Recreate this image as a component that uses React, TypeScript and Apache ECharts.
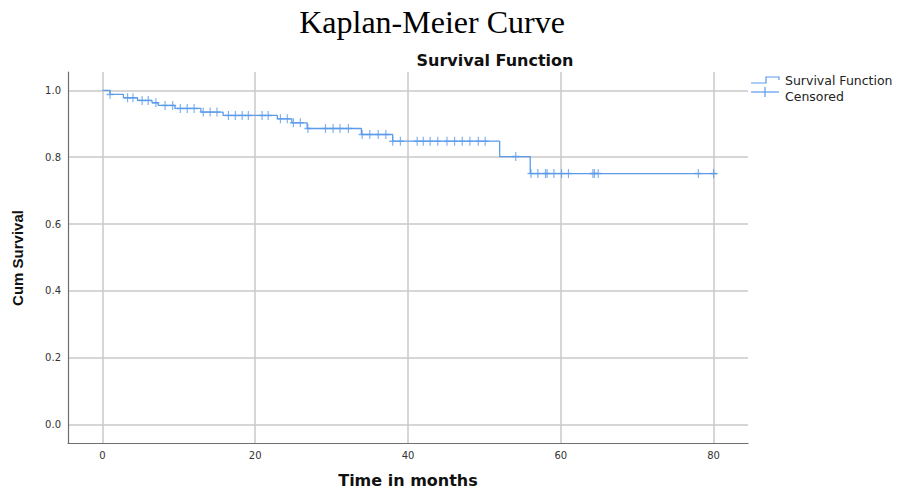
import React, { useEffect, useRef } from "react";
import * as echarts from "echarts";

// Kaplan-Meier step data (time in months, cumulative survival after event)
const eventTimes = [0, 1, 2.75, 4.6, 6.5, 7.3, 9.5, 12.9, 15.8, 22.9, 24.8, 26.8, 33.9, 38, 52, 56, 80.5];
const survival = [1.0, 0.988, 0.978, 0.97, 0.963, 0.955, 0.946, 0.935, 0.925, 0.915, 0.903, 0.886, 0.868, 0.848, 0.802, 0.751, 0.751];

// Censored observation times
const censoredTimes = [
  1, 3.3, 4, 5.2, 6, 7, 8.2, 9.2, 10.2, 11.1, 12, 13.2, 14.1, 15, 16.5, 17.4, 18.3, 19.1,
  20.9, 21.7, 23.3, 24.2, 25, 25.9, 26.9, 29.2, 30.2, 31.1, 32.2, 34, 35, 36.1, 37.1, 38, 39,
  41.2, 42, 42.9, 43.9, 45.1, 46.1, 47.1, 48.1, 49.2, 50.1, 54.1, 56.1, 57, 58, 58.2, 59.1,
  60.1, 61, 64.2, 64.4, 64.9, 78, 80,
];

const titleText = "Kaplan-Meier Curve";
const subtitleText = "Survival Function";
const xAxisTitle = "Time in months";
const yAxisTitle = "Cum Survival";
const legendNames = ["Survival Function", "Censored"];

const LINE_COLOR = "#5b9bea";

function survivalAt(t: number): number {
  let s = survival[0];
  for (let i = 0; i < eventTimes.length; i++) {
    if (eventTimes[i] <= t) s = survival[i];
  }
  return s;
}

export default function App() {
  const ref = useRef<HTMLDivElement>(null);

  useEffect(() => {
    if (!ref.current) return;
    const chart = echarts.init(ref.current, null, { renderer: "svg" });

    const stepData = eventTimes.map((t, i) => [t, survival[i]]);
    const censData = censoredTimes.map((t) => [t, survivalAt(t)]);

    const sans = "DejaVu Sans";
    chart.setOption({
      animation: false,
      backgroundColor: "#ffffff",
      grid: { left: 68, right: 151, top: 72, bottom: 46, containLabel: false },
      xAxis: {
        type: "value",
        min: -4.5,
        max: 84.5,
        splitNumber: 5,
        axisLine: { show: true, onZero: false, lineStyle: { color: "#6e6e6e", width: 1.2 } },
        axisTick: { show: false },
        axisLabel: {
          showMinLabel: false,
          showMaxLabel: false,
          color: "#333",
          fontFamily: sans,
          fontSize: 10,
          margin: 7,
          formatter: (v: number) => String(Math.round(v)),
        },
        splitLine: {
          show: true,
          showMinLine: false,
          showMaxLine: false,
          lineStyle: { color: "#c8c8c8", width: 1.5 },
        },
      },
      yAxis: {
        type: "value",
        min: -0.055,
        max: 1.055,
        splitNumber: 5,
        axisLine: { show: true, onZero: false, lineStyle: { color: "#6e6e6e", width: 1.2 } },
        axisTick: { show: false },
        axisLabel: {
          showMinLabel: false,
          showMaxLabel: false,
          color: "#333",
          fontFamily: sans,
          fontSize: 10,
          margin: 7,
          formatter: (v: number) => v.toFixed(1),
        },
        splitLine: {
          show: true,
          showMinLine: false,
          showMaxLine: false,
          lineStyle: { color: "#c8c8c8", width: 1.5 },
        },
      },
      series: [
        {
          name: legendNames[0],
          type: "line",
          step: "end",
          data: stepData,
          showSymbol: false,
          symbol: "none",
          lineStyle: { color: LINE_COLOR, width: 1.3 },
          z: 3,
        },
        {
          name: legendNames[1],
          type: "scatter",
          data: censData,
          symbol: "path://M5,0L5,10M0,5L10,5",
          symbolSize: [7, 9],
          itemStyle: { color: "none", borderColor: LINE_COLOR, borderWidth: 1.3 },
          z: 4,
        },
      ],
      graphic: [
        {
          type: "text",
          x: 432,
          y: 22,
          style: {
            text: titleText,
            fontFamily: "Liberation Serif",
            fontSize: 32,
            fill: "#000",
            align: "center",
            verticalAlign: "middle",
          },
        },
        {
          type: "text",
          x: 495,
          y: 60,
          style: {
            text: subtitleText,
            fontFamily: sans,
            fontWeight: "bold",
            fontSize: 16,
            fill: "#111",
            align: "center",
            verticalAlign: "middle",
          },
        },
        {
          type: "text",
          x: 408,
          y: 480,
          style: {
            text: xAxisTitle,
            fontFamily: sans,
            fontWeight: "bold",
            fontSize: 16,
            fill: "#111",
            align: "center",
            verticalAlign: "middle",
          },
        },
        {
          type: "text",
          x: 17,
          y: 258,
          rotation: Math.PI / 2,
          style: {
            text: yAxisTitle,
            fontFamily: "Liberation Sans",
            fontWeight: "bold",
            fontSize: 15,
            fill: "#111",
            align: "center",
            verticalAlign: "middle",
          },
        },
        // legend: survival function icon
        {
          type: "polyline",
          shape: { points: [[751, 83], [766, 83], [766, 77], [779, 77], [779, 80]] },
          style: { stroke: LINE_COLOR, lineWidth: 1.2, fill: "none" },
        },
        {
          type: "text",
          x: 785,
          y: 80,
          style: {
            text: legendNames[0],
            fontFamily: sans,
            fontSize: 12.5,
            fill: "#222",
            align: "left",
            verticalAlign: "middle",
          },
        },
        // legend: censored icon
        {
          type: "line",
          shape: { x1: 751, y1: 92, x2: 779, y2: 92 },
          style: { stroke: LINE_COLOR, lineWidth: 1.2 },
        },
        {
          type: "line",
          shape: { x1: 765, y1: 87, x2: 765, y2: 97 },
          style: { stroke: LINE_COLOR, lineWidth: 1.2 },
        },
        {
          type: "text",
          x: 785,
          y: 96,
          style: {
            text: legendNames[1],
            fontFamily: sans,
            fontSize: 12.5,
            fill: "#222",
            align: "left",
            verticalAlign: "middle",
          },
        },
      ],
    });

    return () => chart.dispose();
  }, []);

  return (
    <div
      ref={ref}
      style={{ position: "fixed", left: 0, top: 0, width: 899, height: 489, background: "#fff" }}
    />
  );
}
